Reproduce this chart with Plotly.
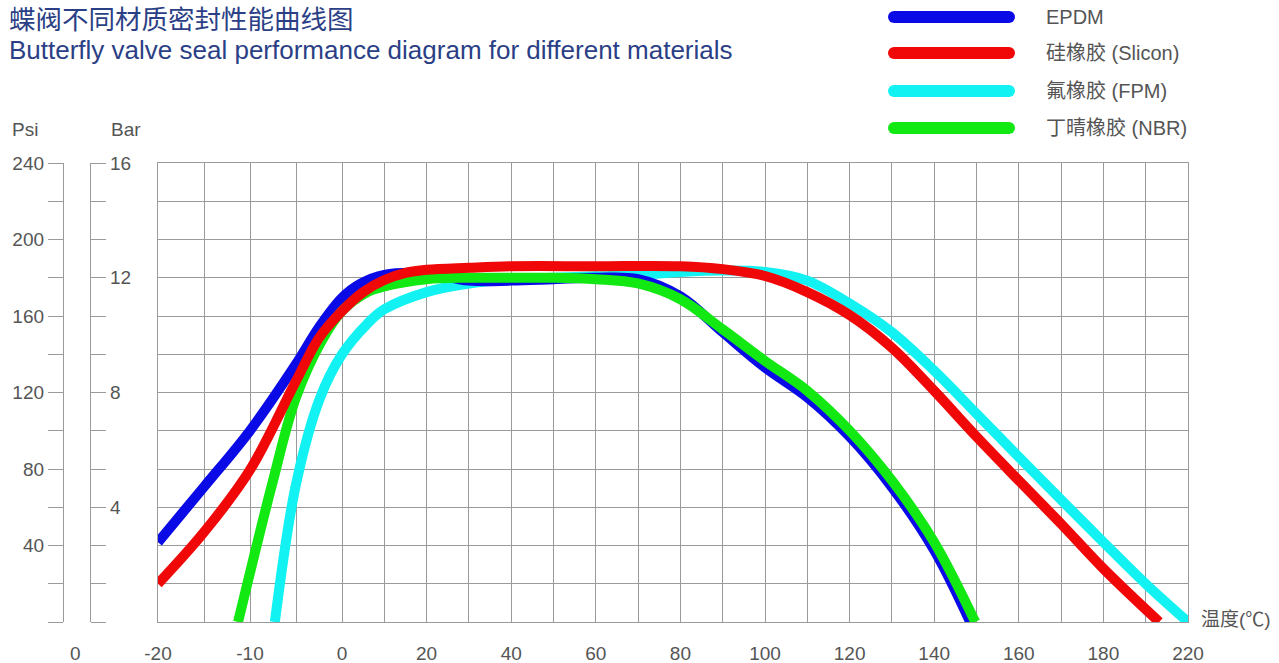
import plotly.graph_objects as go

# ---------------- text ----------------
title_cn = "蝶阀不同材质密封性能曲线图"
title_en = "Butterfly valve seal performance diagram for different materials"
x_title = "温度(℃)"
psi_title = "Psi"
bar_title = "Bar"

# ---------------- series ----------------
series_names = ["EPDM", "硅橡胶 (Slicon)", "氟橡胶 (FPM)", "丁晴橡胶 (NBR)"]
series_colors = ["#0a0ae6", "#f00808", "#12f2f2", "#12e812"]

# temperature (°C) / pressure (bar)
epdm_temp = [-20, -15, -10, -5, -2.5, 0, 4.5, 10, 20, 30, 40, 50, 60, 70, 80, 90, 100, 110, 120, 130, 140, 148.5]
epdm_bar = [2.78, 4.71, 6.67, 8.99, 10.27, 11.3, 11.8, 12.1, 12.15, 11.9, 11.9, 11.95, 12.0, 11.95, 11.35, 10.1, 8.87, 7.83, 6.46, 4.7, 2.5, 0]

silicon_temp = [-20, -15, -10, -5, -2.5, 0, 5, 10, 15, 20, 30, 40, 60, 80, 90, 100, 110, 120, 130, 140, 150, 160, 170, 180, 193.2]
silicon_bar = [1.33, 3.13, 5.3, 8.4, 9.9, 10.84, 11.5, 11.92, 12.17, 12.28, 12.35, 12.4, 12.4, 12.4, 12.3, 12.06, 11.5, 10.7, 9.56, 8.06, 6.46, 4.93, 3.42, 1.86, 0]

fpm_temp = [-7.3, -5, -2.4, 0, 6, 10, 20, 30, 40, 50, 60, 70, 80, 90, 100, 110, 120, 130, 140, 150, 160, 170, 180, 190, 200]
fpm_bar = [0, 4.8, 7.8, 9.33, 10.4, 10.9, 11.5, 11.8, 11.95, 12.0, 12.05, 12.1, 12.2, 12.25, 12.2, 11.9, 11.1, 10.1, 8.76, 7.26, 5.75, 4.26, 2.78, 1.33, 0]

nbr_temp = [-11.3, -7.6, -5, -2.25, 0, 6, 10, 20, 30, 40, 50, 60, 70, 80, 90, 100, 110, 120, 130, 140, 149.7]
nbr_bar = [0, 4.8, 7.83, 9.78, 10.84, 11.5, 11.7, 11.95, 12.0, 12.0, 12.0, 11.95, 11.8, 11.25, 10.2, 9.1, 8.06, 6.67, 4.93, 2.78, 0]

series_temps = [epdm_temp, silicon_temp, fpm_temp, nbr_temp]
series_bars = [epdm_bar, silicon_bar, fpm_bar, nbr_bar]
draw_order = [2, 0, 3, 1]  # FPM, EPDM, NBR, Silicon on top

# ---------------- axes ticks ----------------
temp_ticks = [-20, -15, -10, -5, 0, 10, 20, 30, 40, 50, 60, 70, 80, 90, 100, 110, 120, 130, 140, 150, 160, 170, 180, 190, 200]
temp_labels = ["-20", "", "-10", "", "0", "", "20", "", "40", "", "60", "", "80", "", "100", "", "120", "", "140", "", "160", "", "180", "", "220"]

bar_ticks = [i * 4 / 3 for i in range(13)]
bar_labels = ["", "", "", "4", "", "", "8", "", "", "12", "", "", "16"]
psi_ticks = [0, 20, 40, 60, 80, 100, 120, 140, 160, 180, 200, 220, 240]
psi_labels = ["", "", "40", "", "80", "", "120", "", "160", "", "200", "", "240"]

# the chart draws -20..0 °C at a wider pitch (5 °C cells) than 0..200 °C (10 °C cells)
NEG_SCALE = 46.0 / 42.3 / 5.0


def tx(t):
    return t * NEG_SCALE if t < 0 else t / 10.0


W, H = 1279, 663
GRID = "#9a9a9a"
TXT = "#555555"
FONT = "Liberation Sans, Noto Sans CJK SC, sans-serif"
TICK_SIZE = 19


def px(x):
    return x / W


def py(y):
    return 1 - y / H


fig = go.Figure()

for i in draw_order:
    fig.add_trace(go.Scatter(
        x=[tx(t) for t in series_temps[i]], y=series_bars[i],
        mode="lines", name=series_names[i],
        line=dict(color=series_colors[i], width=10, shape="spline", smoothing=1.0),
        hoverinfo="skip", showlegend=False,
    ))

# dummy traces to bind secondary axes
fig.add_trace(go.Scatter(x=[None], y=[None], yaxis="y2", showlegend=False, hoverinfo="skip"))
fig.add_trace(go.Scatter(x=[None], y=[None], yaxis="y3", showlegend=False, hoverinfo="skip"))

fig.update_layout(
    width=W, height=H,
    margin=dict(l=0, r=0, t=0, b=0, pad=0, autoexpand=False),
    paper_bgcolor="white", plot_bgcolor="white",
    showlegend=False,
    font=dict(family=FONT, size=18, color=TXT),
    xaxis=dict(
        domain=[px(158), px(1188)],
        range=[tx(-20), tx(200)],
        tickmode="array", tickvals=[tx(t) for t in temp_ticks], ticktext=temp_labels,
        showgrid=True, gridcolor=GRID, gridwidth=1.3,
        showline=True, linecolor=GRID, linewidth=1.3, mirror=True,
        ticks="", ticklabelstandoff=14, zeroline=False, automargin=False,
        tickfont=dict(size=TICK_SIZE, color=TXT), fixedrange=True,
    ),
    yaxis=dict(
        domain=[py(622), py(163)],
        range=[0, 16],
        tickmode="array", tickvals=bar_ticks, showticklabels=False,
        showgrid=True, gridcolor=GRID, gridwidth=1.3,
        showline=True, linecolor=GRID, linewidth=1.3, mirror=True,
        ticks="", zeroline=False, fixedrange=True, automargin=False,
    ),
    yaxis2=dict(
        overlaying="y", anchor="free", position=px(63), side="left",
        range=[0, 240], tickmode="array", tickvals=psi_ticks, ticktext=psi_labels,
        showgrid=False, zeroline=False, automargin=False,
        showline=True, linecolor=GRID, linewidth=1.3,
        ticks="outside", ticklen=15, tickwidth=1.3, tickcolor=GRID,
        tickfont=dict(size=TICK_SIZE, color=TXT), fixedrange=True,
    ),
    yaxis3=dict(
        overlaying="y", anchor="free", position=px(90), side="right",
        range=[0, 16], tickmode="array", tickvals=bar_ticks, ticktext=bar_labels,
        showgrid=False, zeroline=False, automargin=False,
        showline=True, linecolor=GRID, linewidth=1.3,
        ticks="outside", ticklen=15, tickwidth=1.3, tickcolor=GRID,
        tickfont=dict(size=TICK_SIZE, color=TXT), fixedrange=True,
    ),
)

annotations = [
    dict(text=title_cn, x=px(7), y=py(20), xanchor="left", yanchor="middle",
         font=dict(size=26.5, color="#2b3f86", family=FONT)),
    dict(text=title_en, x=px(7), y=py(50), xanchor="left", yanchor="middle",
         font=dict(size=26, color="#2b3f86", family=FONT)),
    dict(text=psi_title, x=px(25), y=py(130), xanchor="center", yanchor="middle",
         font=dict(size=TICK_SIZE, color=TXT)),
    dict(text=bar_title, x=px(126), y=py(130), xanchor="center", yanchor="middle",
         font=dict(size=TICK_SIZE, color=TXT)),
    dict(text="0", x=px(75), y=py(653), xanchor="center", yanchor="middle",
         font=dict(size=TICK_SIZE, color=TXT)),
    dict(text=x_title, x=px(1199), y=py(619), xanchor="left", yanchor="middle",
         font=dict(size=TICK_SIZE, color=TXT)),
]

legend_rows = [17, 53, 91, 128]
LEG_X0, LEG_X1, CAP = 894, 1009, 6
shapes = []
for i, name in enumerate(series_names):
    yc = py(legend_rows[i])
    shapes.append(dict(type="line", xref="paper", yref="paper",
                       x0=px(LEG_X0), x1=px(LEG_X1), y0=yc, y1=yc,
                       line=dict(color=series_colors[i], width=12)))
    for xe in (LEG_X0, LEG_X1):
        shapes.append(dict(type="circle", xref="paper", yref="paper",
                           xsizemode="pixel", ysizemode="pixel",
                           xanchor=px(xe), yanchor=yc,
                           x0=-CAP, x1=CAP, y0=-CAP, y1=CAP,
                           fillcolor=series_colors[i], line=dict(width=0)))
    annotations.append(dict(text=name, x=px(1044), y=yc, xanchor="left",
                            yanchor="middle", font=dict(size=20, color=TXT)))

for a in annotations:
    a.update(xref="paper", yref="paper", showarrow=False)

fig.update_layout(annotations=annotations, shapes=shapes)

fig.write_html(
    "out.html",
    config={"displayModeBar": False},
    post_script="document.body.style.margin='0px'; document.body.style.overflow='hidden';",
)
